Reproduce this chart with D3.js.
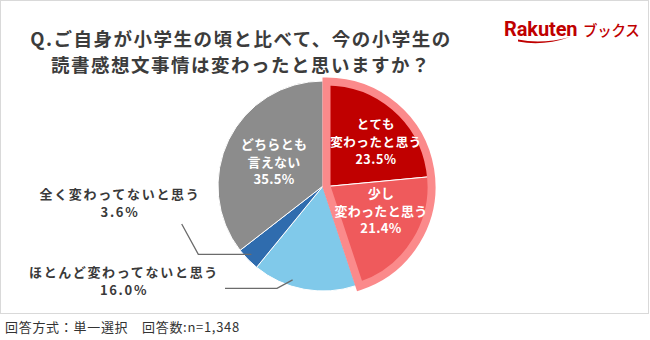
<!DOCTYPE html>
<html>
<head>
<meta charset="utf-8">
<script src="https://cdn.jsdelivr.net/npm/d3@7"></script>
<style>
  body { margin: 0; background: #fff; }
  svg { display: block; }
</style>
</head>
<body>
<svg id="chart" width="650" height="340"></svg>
<script>
// Survey answers, clockwise from 12 o'clock
const categories = ["とても変わったと思う", "少し変わったと思う", "ほとんど変わってないと思う", "全く変わってないと思う", "どちらとも言えない"];
const values = [23.5, 21.4, 16.0, 3.6, 35.5];
const labelLines = [["とても", "変わったと思う"], ["少し", "変わったと思う"], ["ほとんど変わってないと思う"], ["全く変わってないと思う"], ["どちらとも", "言えない"]];
const colors = ["#c00000", "#ef5a5c", "#80c9ea", "#2f6cae", "#8c8c8c"];
const highlighted = [true, true, false, false, false];
const titleLines = ["Q.ご自身が小学生の頃と比べて、今の小学生の", "読書感想文事情は変わったと思いますか？"];
const footnote = "回答方式：単一選択　回答数:n=1,348";

const JP = "'Noto Sans CJK JP', 'Noto Sans', sans-serif";
const svg = d3.select("#chart");

// Frame
svg.append("rect")
  .attr("x", 0.5).attr("y", 0.5).attr("width", 648).attr("height", 313)
  .attr("fill", "#fff").attr("stroke", "#d9d9d9").attr("stroke-width", 1);

// Title (one text element, one tspan per line)
const title = svg.append("text")
  .attr("text-anchor", "middle")
  .attr("font-family", JP).attr("font-weight", 700).attr("font-size", 18.5)
  .attr("letter-spacing", 1.5).attr("fill", "#3c3c3c");
title.selectAll("tspan").data(titleLines).join("tspan")
  .attr("x", 241).attr("y", (d, i) => 45.5 + i * 26)
  .text(d => d);

// Logo
const logo = svg.append("g");
logo.append("text").attr("x", 504).attr("y", 36)
  .attr("font-family", "Roboto, 'Liberation Sans', sans-serif").attr("font-weight", 700)
  .attr("font-size", 20).attr("letter-spacing", -0.1).attr("fill", "#bf0000").text("Rakuten");
logo.append("text").attr("x", 583).attr("y", 36)
  .attr("font-family", JP).attr("font-weight", 500)
  .attr("font-size", 14.5).attr("letter-spacing", -0.3).attr("fill", "#bf0000").text("ブックス");
logo.append("path")
  .attr("d", "M518,39.5 Q542,44.5 570,37 Q543,46.5 518,41.5 Z")
  .attr("fill", "#bf0000");

// Pie geometry
const cx = 323, cy = 186, r = 105;
const explode = [3.5, 0.5];
const pie = d3.pie().sort(null).value(d => d)(values);
const arc = d3.arc().innerRadius(0).outerRadius(r);

const gPie = svg.append("g").attr("transform", `translate(${cx},${cy})`);
gPie.selectAll("path.slice").data(pie.filter((d, i) => !highlighted[i])).join("path")
  .attr("class", "slice")
  .attr("d", arc)
  .attr("fill", d => colors[d.index])
  .attr("stroke", "#fff").attr("stroke-width", 1);

// Highlighted group: shifted slightly and outlined
const hi = pie.filter((d, i) => highlighted[i]);
const gHi = svg.append("g").attr("transform", `translate(${cx + explode[0]},${cy + explode[1]})`);
gHi.selectAll("path").data(hi).join("path")
  .attr("d", arc)
  .attr("fill", d => colors[d.index])
  .attr("stroke", "#fff").attr("stroke-width", 1);
gHi.append("path")
  .attr("d", arc({ startAngle: hi[0].startAngle, endAngle: hi[hi.length - 1].endAngle }))
  .attr("fill", "none").attr("stroke", "#fb8a8b").attr("stroke-width", 8)
  .attr("stroke-linejoin", "miter");

// Label layout: offset from pie centre (middle line), line height, font
const labelLayout = [
  { dx: 53, dy: -39.3, lh: 17.5, fs: 12.5, ls: 0.6, inside: true },
  { dx: 58, dy: 29.7, lh: 17.5, fs: 13, ls: 0.3, inside: true },
  { dx: -199, dy: 99.9, lh: 18, fs: 13, ls: 1.7, inside: false },
  { dx: -203, dy: 22.3, lh: 17.7, fs: 13, ls: 1.7, inside: false },
  { dx: -49, dy: -19.3, lh: 17.5, fs: 13, ls: 0.3, inside: true }
];

const gLab = svg.append("g").attr("transform", `translate(${cx},${cy})`);
pie.forEach((d, i) => {
  const L = labelLayout[i];
  const lines = labelLines[i].concat([values[i].toFixed(1) + "%"]);
  const mid = (lines.length - 1) / 2;
  const t = gLab.append("text")
    .attr("text-anchor", "middle")
    .attr("font-family", JP).attr("font-weight", 700)
    .attr("font-size", L.fs)
    .attr("letter-spacing", L.ls)
    .attr("fill", L.inside ? "#fff" : "#3a3a3a");
  t.selectAll("tspan").data(lines).join("tspan")
    .attr("x", L.dx).attr("y", (s, k) => L.dy + (k - mid) * L.lh)
    .text(s => s);
});

// Leader lines for the outside labels: tip sits on the slice
const leaders = [
  { index: 3, frac: 0.5, rad: 100, path: [[-141.3, 38], [-124.7, 68.3], null] },
  { index: 2, frac: 0.63, rad: 98.7, path: [[-98, 102.3], [-46, 102.3], null] }
];
leaders.forEach(l => {
  const d = pie[l.index];
  const a = d.startAngle + l.frac * (d.endAngle - d.startAngle);
  const tip = [l.rad * Math.sin(a), -l.rad * Math.cos(a)];
  const pts = l.path.map(p => p || tip);
  if (l.index === 3) pts[2] = [tip[0], pts[1][1]];
  gLab.append("path")
    .attr("d", d3.line()(pts))
    .attr("fill", "none").attr("stroke", "#6b6b6b").attr("stroke-width", 1.3);
});

// Footnote
svg.append("text").attr("x", 5).attr("y", 331.5)
  .attr("font-family", JP).attr("font-weight", 400).attr("font-size", 13)
  .attr("letter-spacing", 0.7)
  .attr("fill", "#333").text(footnote);
</script>
</body>
</html>
